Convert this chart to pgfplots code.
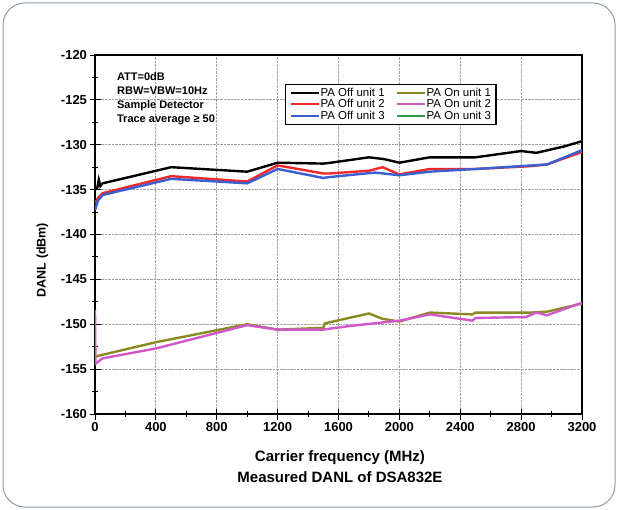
\documentclass[border=0pt]{standalone}
\usepackage{pgfplots}
\pgfplotsset{compat=1.18}
\usepackage{fontspec}
\setmainfont{Liberation Sans}
\definecolor{offred}{HTML}{F02828}
\definecolor{offblue}{HTML}{3A5FD0}
\definecolor{onolive}{HTML}{8A8A22}
\definecolor{onmag}{HTML}{D058C8}
\definecolor{ongreen}{HTML}{2E9A42}
\definecolor{framec}{HTML}{8C9BAB}
\begin{document}
\begin{tikzpicture}
\useasboundingbox (0pt,0pt) rectangle (617pt,509pt);
\draw[framec, line width=1pt, rounded corners=22pt] (3pt,2pt) rectangle (615pt,506pt);
\begin{axis}[
  at={(95pt,95pt)}, anchor=south west,
  scale only axis, width=487pt, height=359pt,
  xmin=0, xmax=3200, ymin=-160, ymax=-120,
  xtick={0,400,...,3200},
  xticklabels={0,400,800,1200,1600,2000,2400,2800,3200},
  ytick={-160,-155,...,-120},
  yticklabels={-160,-155,-150,-145,-140,-135,-130,-125,-120},
  minor x tick num=1, minor y tick num=1,
  xtick pos=bottom, ytick pos=left,
  tick align=center,
  major tick length=11pt, minor tick length=6pt,
  every tick/.style={black, line width=1pt},
  axis line style={line width=1.3pt},
  grid=major,
  major grid style={densely dotted, gray!75, line width=0.8pt},
  ticklabel style={font=\bfseries\fontsize{13}{15}\selectfont},
  xticklabel style={yshift=1pt},
  yticklabel style={xshift=1pt},
  xlabel={Carrier frequency (MHz)\\Measured DANL of DSA832E},
  xlabel style={at={(axis description cs:0.503,-0.148)}, anchor=center, align=center, font=\bfseries\fontsize{15}{21}\selectfont},
  ylabel={DANL (dBm)},
  ylabel style={at={(axis description cs:-0.108,0.429)}, anchor=center, rotate=0, font=\bfseries\fontsize{12.5}{14}\selectfont},
  legend columns=2,
  legend cell align=left,
  legend style={at={(rel axis cs:0.390,0.919)}, anchor=north west, draw=black, line width=1.2pt,
    font=\fontsize{11.5}{11.5}\selectfont, inner xsep=4pt, inner ysep=2pt,
    nodes={inner sep=1pt},
    /tikz/every even column/.append style={column sep=10pt}},
  legend image code/.code={\draw[#1, line width=2pt] (0pt,0pt) -- (28pt,0pt);},
]
\addplot[forget plot, black, line width=2.4pt] coordinates {
(0,-135.0)(15,-134.8)(25,-133.9)(35,-134.6)(50,-134.3)(500,-132.5)(1000,-133.0)(1200,-132.0)(1500,-132.1)(1550,-132.0)(1800,-131.4)(1900,-131.6)(2000,-132.0)(2200,-131.4)(2500,-131.4)(2800,-130.7)(2900,-130.9)(3080,-130.2)(3200,-129.6)};
\addplot[forget plot, offred, line width=2.4pt] coordinates {
(0,-136.5)(20,-135.9)(50,-135.4)(500,-133.5)(1000,-134.1)(1200,-132.3)(1500,-133.2)(1540,-133.2)(1800,-132.9)(1890,-132.5)(2000,-133.3)(2200,-132.7)(2500,-132.7)(2850,-132.4)(2970,-132.2)(3200,-130.8)};
\addplot[forget plot, offblue, line width=2.4pt] coordinates {
(0,-137.3)(20,-136.2)(50,-135.6)(500,-133.8)(1000,-134.3)(1200,-132.7)(1500,-133.7)(1540,-133.6)(1840,-133.1)(2000,-133.4)(2200,-133.0)(2500,-132.7)(2970,-132.2)(3200,-130.6)};
\addplot[forget plot, onolive, line width=2.4pt] coordinates {
(0,-153.6)(400,-152.0)(1000,-150.0)(1200,-150.6)(1500,-150.4)(1510,-149.9)(1800,-148.8)(1890,-149.4)(2000,-149.7)(2200,-148.7)(2480,-148.9)(2500,-148.7)(2860,-148.7)(2970,-148.6)(3200,-147.7)};
\addplot[forget plot, onmag, line width=2.4pt] coordinates {
(0,-148.4)(3,-154.4)(50,-153.8)(400,-152.7)(1000,-150.1)(1200,-150.6)(1500,-150.6)(1540,-150.5)(1670,-150.2)(2000,-149.6)(2200,-148.9)(2480,-149.6)(2500,-149.3)(2830,-149.2)(2900,-148.7)(2970,-149.0)(3200,-147.6)};
\addlegendimage{black}\addlegendentry{PA Off unit 1}
\addlegendimage{onolive}\addlegendentry{PA On unit 1}
\addlegendimage{offred}\addlegendentry{PA Off unit 2}
\addlegendimage{onmag}\addlegendentry{PA On unit 2}
\addlegendimage{offblue}\addlegendentry{PA Off unit 3}
\addlegendimage{ongreen}\addlegendentry{PA On unit 3}
\node[anchor=north west, align=left, inner sep=0pt, font=\bfseries\fontsize{11}{14}\selectfont] at (rel axis cs:0.045,0.953) {ATT=0dB\\RBW=VBW=10Hz\\Sample Detector\\Trace average ≥ 50};
\end{axis}
\end{tikzpicture}
\end{document}
